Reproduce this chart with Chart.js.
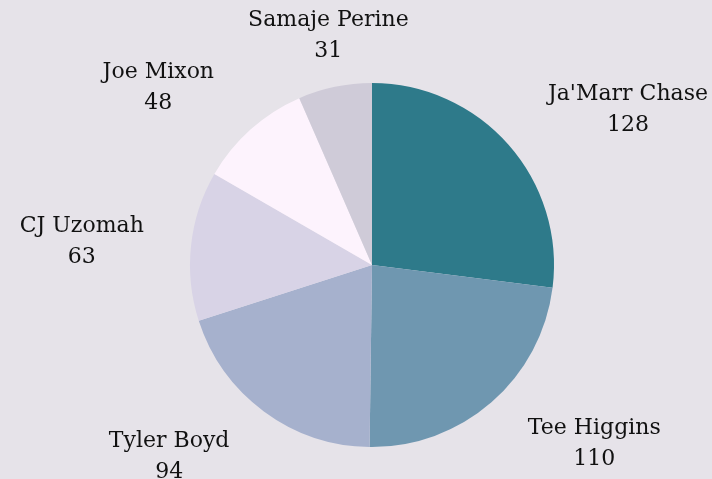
<!DOCTYPE html>
<html>
<head>
<meta charset="utf-8">
<script src="https://cdn.jsdelivr.net/npm/chart.js@4.4.0/dist/chart.umd.min.js"></script>
<style>
  html, body { margin: 0; padding: 0; background: #e6e3e9; }
  #wrap { width: 712px; height: 479px; }
</style>
</head>
<body>
<div id="wrap"><canvas id="c" width="712" height="479"></canvas></div>
<script>
// ---- data ----
const players = ["Ja'Marr Chase", "Tee Higgins", "Tyler Boyd", "CJ Uzomah", "Joe Mixon", "Samaje Perine"];
const targets = [128, 110, 94, 63, 48, 31];
const sliceColors = ['#2e7a8a', '#6f97b0', '#a6b1cd', '#d8d3e6', '#fdf3fd', '#cfcbd8'];

const FONT = '22px "DejaVu Serif"';
const LINE_H = 31;

// outside labels, placed roughly like plotly's outside text
const outsideLabels = {
  id: 'outsideLabels',
  afterDatasetsDraw(chart) {
    const ctx = chart.ctx;
    const meta = chart.getDatasetMeta(0);
    ctx.save();
    ctx.font = FONT;
    ctx.fillStyle = '#111';
    ctx.textAlign = 'center';
    ctx.textBaseline = 'middle';
    meta.data.forEach((arc, i) => {
      const p = arc.getProps(['x', 'y', 'startAngle', 'endAngle', 'outerRadius'], true);
      const mid = (p.startAngle + p.endAngle) / 2;
      const rr = p.outerRadius * 1.175;
      const mx = Math.cos(mid) * rr, my = Math.sin(mid) * rr;
      const lines = [players[i], String(targets[i])];
      const w = Math.max(...lines.map(t => ctx.measureText(t).width));
      const h = LINE_H * lines.length;
      let dx = w / 2, dy = h / 2;
      if (mx < 0) dx *= -1;
      if (my < 0) dy *= -1;
      let tx = dx + Math.abs(dy) * (dx > 0 ? 1 : -1) / 2;
      let ty = dy / (1 + mx * mx / (my * my));
      // nearly straight up/down: keep the label centred over the slice
      if (Math.abs(mx) < 0.3 * rr) { tx = 0; ty = dy * 0.65; }
      const cx = p.x + mx + tx, cy = p.y + my + ty;
      lines.forEach((t, k) => {
        ctx.fillText(t, cx, cy + (k - (lines.length - 1) / 2) * LINE_H);
      });
    });
    ctx.restore();
  }
};

new Chart(document.getElementById('c'), {
  type: 'pie',
  data: {
    labels: players,
    datasets: [{ data: targets, backgroundColor: sliceColors, borderWidth: 0 }]
  },
  options: {
    responsive: false,
    animation: false,
    layout: { padding: { left: 190, right: 158, top: 83, bottom: 32 } },
    plugins: { legend: { display: false }, tooltip: { enabled: false } }
  },
  plugins: [outsideLabels]
});
</script>
</body>
</html>
